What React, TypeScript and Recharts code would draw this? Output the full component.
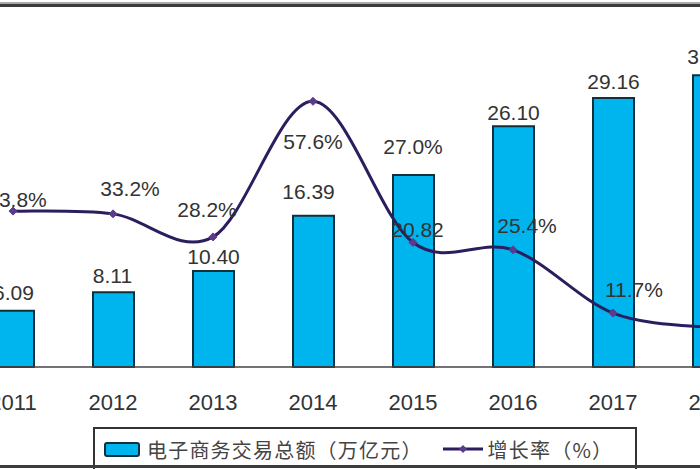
import React from "react";
import { ComposedChart, Bar, Line, XAxis, YAxis, LabelList } from "recharts";

const years = ["2011", "2012", "2013", "2014", "2015", "2016", "2017", "2018"];
const totals = [6.09, 8.11, 10.4, 16.39, 20.82, 26.1, 29.16, 31.63];
const growth = [33.8, 33.2, 28.2, 57.6, 27.0, 25.4, 11.7, 8.5];

// where each value label sits relative to its mark (layout only)
const totalLabelDy = [-18, -17, -15, -24, 55, -14, -16, -19];
const totalLabelDx = [0, -1, 0, -5, 4, 0, 0, 0];
const growthLabelOffset: [number, number][] = [
  [4, -12], [17, -25], [-6, -27], [0, 40], [0, -96], [14, -24], [21, -24], [18, -24],
];

const data = years.map((year, i) => ({ year, total: totals[i], rate: growth[i] }));

const BAR_FILL = "#00b4ee";
const BAR_STROKE = "#12303c";
const LINE_COLOR = "#2b1d5e";
const DOT_COLOR = "#5b3b8c";
const TEXT = "#333";
const FONT = "'Liberation Sans', Arial, sans-serif";

// Excel-like smoothed line (Catmull-Rom through the points)
const smoothCurve = (context: any) => {
  let pts: [number, number][] = [];
  return {
    areaStart() {},
    areaEnd() {},
    lineStart() {
      pts = [];
    },
    point(x: number, y: number) {
      pts.push([+x, +y]);
    },
    lineEnd() {
      if (!pts.length) return;
      context.moveTo(pts[0][0], pts[0][1]);
      for (let i = 0; i < pts.length - 1; i++) {
        const p0 = pts[i - 1] || pts[i];
        const p1 = pts[i];
        const p2 = pts[i + 1];
        const p3 = pts[i + 2] || p2;
        context.bezierCurveTo(
          p1[0] + (p2[0] - p0[0]) / 6,
          p1[1] + (p2[1] - p0[1]) / 6,
          p2[0] - (p3[0] - p1[0]) / 6,
          p2[1] - (p3[1] - p1[1]) / 6,
          p2[0],
          p2[1]
        );
      }
    },
  };
};

const Diamond = (props: any) => {
  const { cx, cy } = props;
  if (cx == null || cy == null) return null;
  const r = 4;
  return (
    <polygon
      points={`${cx},${cy - r} ${cx + r},${cy} ${cx},${cy + r} ${cx - r},${cy}`}
      fill={DOT_COLOR}
      stroke={DOT_COLOR}
    />
  );
};

const TotalLabel = (props: any) => {
  const { x, y, width, value, index } = props;
  return (
    <text
      x={x + width / 2 + totalLabelDx[index]}
      y={y + totalLabelDy[index]}
      textAnchor="middle"
      dominantBaseline="central"
      fontSize={21}
      fontFamily={FONT}
      fill={TEXT}
    >
      {value.toFixed(2)}
    </text>
  );
};

const RateLabel = (props: any) => {
  const { x, y, value, index } = props;
  const [dx, dy] = growthLabelOffset[index];
  return (
    <text
      x={x + dx}
      y={y + dy}
      textAnchor="middle"
      dominantBaseline="central"
      fontSize={21}
      fontFamily={FONT}
      fill={TEXT}
    >
      {value.toFixed(1)}%
    </text>
  );
};

export default function App() {
  return (
    <div
      style={{
        position: "fixed",
        left: 0,
        top: 0,
        width: 700,
        height: 470,
        overflow: "hidden",
        background: "#fff",
        fontFamily: FONT,
      }}
    >
      <div style={{ position: "absolute", left: 0, top: 2, width: 700, height: 2, background: "#aaa" }} />
      <div style={{ position: "absolute", left: 0, top: 4, width: 700, height: 3, background: "#3c3c3c" }} />

      <div style={{ position: "absolute", left: -37, top: -2 }}>
        <ComposedChart
          width={800}
          height={439}
          data={data}
          margin={{ top: 0, right: 0, bottom: 0, left: 0 }}
          barCategoryGap={0}
        >
          <XAxis
            dataKey="year"
            height={70}
            tickLine={false}
            tickMargin={21}
            axisLine={{ stroke: "#444", strokeWidth: 1.5 }}
            tick={{ fontSize: 22, fill: TEXT, fontFamily: FONT }}
            interval={0}
          />
          <YAxis yAxisId="total" hide domain={[0, 40]} />
          <YAxis yAxisId="rate" hide domain={[0, 80]} orientation="right" />
          <Bar
            yAxisId="total"
            dataKey="total"
            barSize={41}
            fill={BAR_FILL}
            stroke={BAR_STROKE}
            strokeWidth={2}
            isAnimationActive={false}
          >
            <LabelList dataKey="total" content={TotalLabel} />
          </Bar>
          <Line
            yAxisId="rate"
            dataKey="rate"
            type={smoothCurve as any}
            stroke={LINE_COLOR}
            strokeWidth={3}
            dot={<Diamond />}
            activeDot={false}
            isAnimationActive={false}
          >
            <LabelList dataKey="rate" content={RateLabel} />
          </Line>
        </ComposedChart>
      </div>

      {/* legend */}
      <div
        style={{
          position: "absolute",
          left: 93,
          top: 427,
          width: 540,
          height: 40,
          border: "2px solid #333",
          borderBottom: "none",
          display: "flex",
          alignItems: "center",
          fontFamily: "'Noto Sans CJK SC', sans-serif",
          fontSize: 20,
          color: "#444",
          whiteSpace: "nowrap",
        }}
      >
        <span
          style={{
            display: "inline-block",
            marginLeft: 9,
            width: 32,
            height: 11,
            background: BAR_FILL,
            border: `2px solid ${BAR_STROKE}`,
            borderRadius: 3,
          }}
        />
        <span style={{ marginLeft: 7, letterSpacing: 1.2 }}>电子商务交易总额（万亿元）</span>
        <svg width={40} height={12} style={{ marginLeft: 20 }}>
          <line x1={0} y1={6} x2={40} y2={6} stroke={LINE_COLOR} strokeWidth={3} />
          <polygon points="20,2 24,6 20,10 16,6" fill={DOT_COLOR} />
        </svg>
        <span style={{ marginLeft: 5, letterSpacing: 1.2 }}>增长率（%）</span>
      </div>

      <div style={{ position: "absolute", left: 0, top: 465, width: 700, height: 3, background: "#3c3c3c" }} />
    </div>
  );
}
